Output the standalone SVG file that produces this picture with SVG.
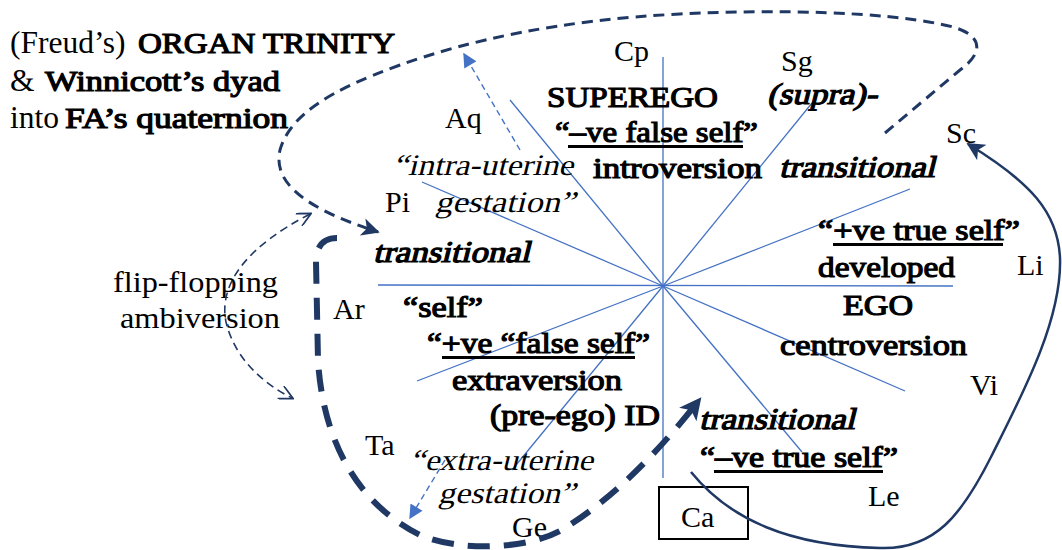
<svg xmlns="http://www.w3.org/2000/svg" width="1062" height="550" viewBox="0 0 1062 550">
<style>
.ray{stroke:#4472C4;stroke-width:1.3;fill:none}
.ul{fill:#000}
.loop{stroke:#1F3864;stroke-width:3;fill:none;stroke-dasharray:11 7}
.thick{stroke:#1F3864;stroke-width:6;fill:none;stroke-dasharray:22 14}
.flip{stroke:#1F3864;stroke-width:1.6;fill:none;stroke-dasharray:8 5}
.blue{stroke:#4472C4;stroke-width:1.4;fill:none;stroke-dasharray:6 4}
.solid{stroke:#1F3864;stroke-width:2.5;fill:none}
</style>
<defs>
<marker id="navyHead" viewBox="0 0 10 10" refX="9" refY="5" markerWidth="20" markerHeight="18" markerUnits="userSpaceOnUse" orient="auto"><path d="M0,0 L10,5 L0,10 L2.5,5 z" fill="#1F3864"/></marker>
<marker id="navyHeadL" viewBox="0 0 10 10" refX="9" refY="5" markerWidth="24" markerHeight="22" markerUnits="userSpaceOnUse" orient="auto"><path d="M0,0 L10,5 L0,10 L2.5,5 z" fill="#1F3864"/></marker>
<marker id="blueHead" viewBox="0 0 10 10" refX="9" refY="5" markerWidth="16" markerHeight="14" markerUnits="userSpaceOnUse" orient="auto"><path d="M0,0 L10,5 L0,10 z" fill="#4472C4"/></marker>
<marker id="openHead" viewBox="0 0 10 10" refX="9" refY="5" markerWidth="16" markerHeight="14" markerUnits="userSpaceOnUse" orient="auto-start-reverse"><path d="M0,0 L10,5 L0,10" fill="none" stroke="#1F3864" stroke-width="1.2"/></marker>
</defs>

<g id="rays">
<line class="ray" x1="663" y1="57" x2="663" y2="478"/>
<line class="ray" x1="378" y1="285" x2="953" y2="286"/>
<line class="ray" x1="663" y1="286" x2="510" y2="100"/>
<line class="ray" x1="663" y1="286" x2="422" y2="182"/>
<line class="ray" x1="663" y1="286" x2="812" y2="103"/>
<line class="ray" x1="663" y1="286" x2="910" y2="189"/>
<line class="ray" x1="663" y1="286" x2="905" y2="391"/>
<line class="ray" x1="663" y1="286" x2="802" y2="452"/>
<line class="ray" x1="663" y1="286" x2="417" y2="381"/>
<line class="ray" x1="663" y1="286" x2="512" y2="470"/>
</g>

<g id="title">
<text font-family="Liberation Serif" font-size="31.5" x="10" y="53">(Freud’s)</text>
<text font-family="Liberation Serif" font-size="30" stroke="#000" stroke-width="1.2" x="138" y="53" textLength="257" lengthAdjust="spacingAndGlyphs">ORGAN TRINITY</text>
<text font-family="Liberation Serif" font-size="31.5" x="10" y="91">&amp;</text>
<text font-family="Liberation Serif" font-size="30" stroke="#000" stroke-width="1.2" x="45" y="91" textLength="235" lengthAdjust="spacingAndGlyphs">Winnicott’s dyad</text>
<text font-family="Liberation Serif" font-size="31.5" x="10" y="128">into</text>
<text font-family="Liberation Serif" font-size="30" stroke="#000" stroke-width="1.2" x="65" y="128" textLength="223" lengthAdjust="spacingAndGlyphs">FA’s quaternion</text>
</g>

<g id="labels">
<text font-family="Liberation Serif" font-size="30" x="614" y="61">Cp</text>
<text font-family="Liberation Serif" font-size="30" x="781" y="71">Sg</text>
<text font-family="Liberation Serif" font-size="30" x="445" y="128">Aq</text>
<text font-family="Liberation Serif" font-size="30" x="946" y="143">Sc</text>
<text font-family="Liberation Serif" font-size="30" x="385" y="212">Pi</text>
<text font-family="Liberation Serif" font-size="30" x="333" y="319">Ar</text>
<text font-family="Liberation Serif" font-size="30" x="1017" y="275">Li</text>
<text font-family="Liberation Serif" font-size="30" x="970" y="395">Vi</text>
<text font-family="Liberation Serif" font-size="30" x="365" y="455">Ta</text>
<text font-family="Liberation Serif" font-size="30" x="512" y="537">Ge</text>
<text font-family="Liberation Serif" font-size="30" x="868" y="506">Le</text>
</g>

<g id="node-ca">
<rect x="659" y="487" width="89" height="52" fill="none" stroke="#000" stroke-width="2"/>
<text font-family="Liberation Serif" font-size="30" x="681" y="527">Ca</text>
</g>

<g id="node-superego">
<text font-family="Liberation Serif" font-size="30" stroke="#000" stroke-width="1.2" x="547" y="107" textLength="171" lengthAdjust="spacingAndGlyphs">SUPEREGO</text>
<text font-family="Liberation Serif" font-size="30" stroke="#000" stroke-width="1.2" x="555" y="142" textLength="203" lengthAdjust="spacingAndGlyphs">“–ve false self”</text>
<rect class="ul" x="568" y="145" width="175" height="3"/>
<text font-family="Liberation Serif" font-size="30" stroke="#000" stroke-width="1.2" x="593" y="178" textLength="169" lengthAdjust="spacingAndGlyphs">introversion</text>
</g>

<g id="node-supra">
<text font-family="Liberation Serif" font-size="30" stroke="#000" stroke-width="1.2" transform="translate(767,104) skewX(-14)" x="0" y="0" textLength="110" lengthAdjust="spacingAndGlyphs">(supra)-</text>
<text font-family="Liberation Serif" font-size="30" stroke="#000" stroke-width="1.2" transform="translate(779,177) skewX(-14)" x="0" y="0" textLength="156" lengthAdjust="spacingAndGlyphs">transitional</text>
</g>

<g id="node-ego">
<text font-family="Liberation Serif" font-size="30" stroke="#000" stroke-width="1.2" x="818" y="240" textLength="202" lengthAdjust="spacingAndGlyphs">“+ve true self”</text>
<rect class="ul" x="833" y="243" width="170" height="3"/>
<text font-family="Liberation Serif" font-size="30" stroke="#000" stroke-width="1.2" x="818" y="277" textLength="137" lengthAdjust="spacingAndGlyphs">developed</text>
<text font-family="Liberation Serif" font-size="30" stroke="#000" stroke-width="1.2" x="843" y="315" textLength="70" lengthAdjust="spacingAndGlyphs">EGO</text>
<text font-family="Liberation Serif" font-size="30" stroke="#000" stroke-width="1.2" x="780" y="355" textLength="187" lengthAdjust="spacingAndGlyphs">centroversion</text>
</g>

<g id="node-self">
<text font-family="Liberation Serif" font-size="30" stroke="#000" stroke-width="1.2" transform="translate(373,262) skewX(-14)" x="0" y="0" textLength="157" lengthAdjust="spacingAndGlyphs">transitional</text>
<text font-family="Liberation Serif" font-size="30" stroke="#000" stroke-width="1.2" x="403" y="317" textLength="80" lengthAdjust="spacingAndGlyphs">“self”</text>
<text font-family="Liberation Serif" font-size="30" stroke="#000" stroke-width="1.2" x="427" y="353" textLength="223" lengthAdjust="spacingAndGlyphs">“+ve “false self”</text>
<rect class="ul" x="442" y="356" width="193" height="3"/>
<text font-family="Liberation Serif" font-size="30" stroke="#000" stroke-width="1.2" x="452" y="390" textLength="170" lengthAdjust="spacingAndGlyphs">extraversion</text>
<text font-family="Liberation Serif" font-size="30" stroke="#000" stroke-width="1.2" x="490" y="425" textLength="170" lengthAdjust="spacingAndGlyphs">(pre-ego) ID</text>
</g>

<g id="node-true">
<text font-family="Liberation Serif" font-size="30" stroke="#000" stroke-width="1.2" transform="translate(699,429) skewX(-14)" x="0" y="0" textLength="156" lengthAdjust="spacingAndGlyphs">transitional</text>
<text font-family="Liberation Serif" font-size="30" stroke="#000" stroke-width="1.2" x="700" y="467" textLength="198" lengthAdjust="spacingAndGlyphs">“–ve true self”</text>
<rect class="ul" x="714" y="470" width="169" height="3"/>
</g>

<g id="node-intra">
<text font-family="Liberation Serif" font-size="30" transform="translate(393,175) skewX(-14)" x="0" y="0" textLength="180" lengthAdjust="spacingAndGlyphs">“intra-uterine</text>
<text font-family="Liberation Serif" font-size="30" transform="translate(435,212) skewX(-14)" x="0" y="0" textLength="140" lengthAdjust="spacingAndGlyphs">gestation”</text>
</g>

<g id="node-extra">
<text font-family="Liberation Serif" font-size="30" transform="translate(410,470) skewX(-14)" x="0" y="0" textLength="183" lengthAdjust="spacingAndGlyphs">“extra-uterine</text>
<text font-family="Liberation Serif" font-size="30" transform="translate(438,503) skewX(-14)" x="0" y="0" textLength="137" lengthAdjust="spacingAndGlyphs">gestation”</text>
</g>

<g id="node-flip">
<text font-family="Liberation Serif" font-size="30" x="113" y="292" textLength="165" lengthAdjust="spacingAndGlyphs">flip-flopping</text>
<text font-family="Liberation Serif" font-size="30" x="120" y="328" textLength="160" lengthAdjust="spacingAndGlyphs">ambiversion</text>
</g>

<g id="connectors">
<path class="loop" d="M885,133 L960,70 C985,52 985,32 940,24 C880,12 780,9 680,14 C560,20 470,40 400,65 C330,90 290,115 280,150 C272,185 310,210 378,232" marker-end="url(#navyHead)"/>
<path class="thick" d="M337,238 C322,238 316,248 316,262 L318,360 C322,430 350,500 420,535 C460,552 530,550 565,528 C615,497 660,450 700,399" marker-end="url(#navyHeadL)"/>
<path class="flip" d="M310,214 C250,245 218,282 226,322 C234,356 260,382 292,398" marker-start="url(#openHead)" marker-end="url(#openHead)"/>
<path class="blue" d="M520,150 L464,54" marker-end="url(#blueHead)"/>
<path class="blue" d="M445,460 L410,518" marker-end="url(#blueHead)"/>
<path class="solid" d="M691,472 C730,520 790,546 880,548 C935,550 962,515 992,455 C1022,395 1062,320 1060,258 C1058,212 1030,182 968,144" marker-end="url(#navyHead)"/>
</g>
</svg>
